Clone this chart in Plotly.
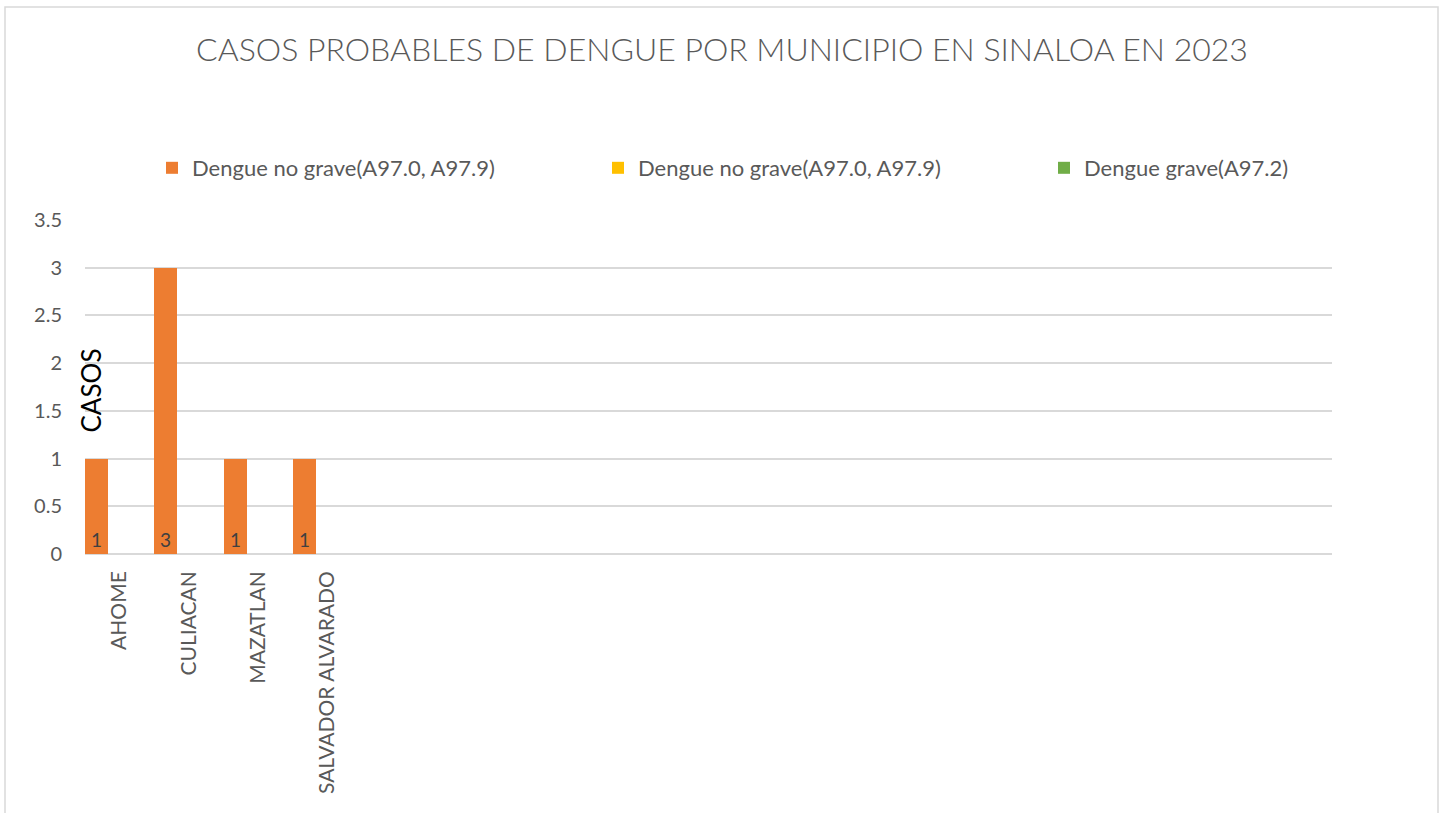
import plotly.graph_objects as go

# ---- data ----
municipios = ["AHOME", "CULIACAN", "MAZATLAN", "SALVADOR ALVARADO"]
n_slots = 18  # category slots on the axis (remaining ones are empty)
serie_no_grave_1 = [1, 3, 1, 1]
serie_no_grave_2 = [None, None, None, None]
serie_grave = [None, None, None, None]
series_names = ["Dengue no grave(A97.0, A97.9)", "Dengue no grave(A97.0, A97.9)", "Dengue grave(A97.2)"]
series_colors = ["#ED7D31", "#FFC000", "#70AD47"]
y_tickvals = [0, 0.5, 1, 1.5, 2, 2.5, 3, 3.5]
y_ticktext = ["0", "0.5", "1", "1.5", "2", "2.5", "3", "3.5"]
title_text = "CASOS PROBABLES DE DENGUE POR MUNICIPIO EN SINALOA EN 2023"
y_title = "CASOS"

FONT = "Lato"
W, H = 1444, 813
L, R, T, B = 85, 112, 220, 259
pw, ph = W - L - R, H - T - B


def px(x):
    return (x - L) / pw


def py(y):
    return (H - B - y) / ph


legend_keys = ["legend", "legend2", "legend3"]
legend_left = [152, 598, 1044]

xs = list(range(len(municipios)))
fig = go.Figure()
all_series = [serie_no_grave_1, serie_no_grave_2, serie_grave]
for i, (vals, name, col) in enumerate(zip(all_series, series_names, series_colors)):
    fig.add_trace(go.Bar(
        x=xs, y=vals, name=name, marker=dict(color=col, line=dict(width=0)),
        text=[("" if v is None else str(v)) for v in vals] if i == 0 else None,
        textposition="inside", insidetextanchor="start", textangle=0,
        insidetextfont=dict(family=FONT, size=19, color="#404040"),
        cliponaxis=False, legend=legend_keys[i], showlegend=True,
    ))

legend_common = dict(orientation="h", xanchor="left", y=py(168), yanchor="middle",
                     font=dict(family=FONT, size=22, color="#595959"),
                     bgcolor="rgba(0,0,0,0)", borderwidth=0)

fig.update_layout(
    width=W, height=H,
    margin=dict(l=L, r=R, t=T, b=B, pad=0),
    paper_bgcolor="white", plot_bgcolor="white",
    barmode="group", bargap=0, bargroupgap=0,
    font=dict(family=FONT, color="#595959"),
    title=dict(text=title_text, x=0.5, xanchor="center", xref="container",
               y=1 - 50 / H, yanchor="middle", yref="container",
               font=dict(family=FONT, size=32, color="#595959", weight=300)),
    legend=dict(x=px(legend_left[0]), **legend_common),
    legend2=dict(x=px(legend_left[1]), **legend_common),
    legend3=dict(x=px(legend_left[2]), **legend_common),
)
fig.update_xaxes(range=[-0.5, n_slots - 0.5], tickmode="array", tickvals=xs, ticktext=municipios,
                 tickangle=-90, showgrid=False, zeroline=False, showline=False, ticks="",
                 ticklabelstandoff=12,
                 tickfont=dict(family=FONT, size=21, color="#595959"), fixedrange=True)
fig.update_yaxes(range=[0, 3.5], tickmode="array", tickvals=y_tickvals, ticktext=y_ticktext,
                 showgrid=True, gridcolor="#D9D9D9", gridwidth=1.5, zeroline=True,
                 zerolinecolor="#D9D9D9", zerolinewidth=1.5, showline=False, ticks="",
                 ticklabelstandoff=22,
                 tickfont=dict(family=FONT, size=20, color="#595959"), fixedrange=True)

# axis title placed as in the reference (inside the plot area)
fig.add_annotation(text=y_title, xref="paper", yref="paper", x=px(90.5), y=py(391),
                   textangle=-90, showarrow=False, xanchor="center", yanchor="middle",
                   font=dict(family=FONT, size=26, color="#000000"))

# chart-area border
fig.add_shape(type="rect", xref="paper", yref="paper",
              x0=px(5), x1=px(1438), y0=py(840), y1=py(7),
              line=dict(color="#D9D9D9", width=1.5), fillcolor="rgba(0,0,0,0)", layer="below")

fig.write_html("out.html", config={"displayModeBar": False},
               post_script="document.body.style.margin='0';")
